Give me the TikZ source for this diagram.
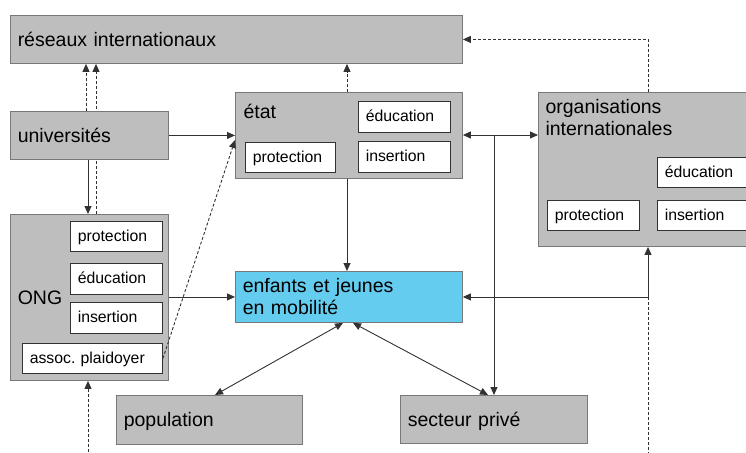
\documentclass[tikz,border=0pt]{standalone}
\usepackage{fontspec}
\setmainfont{Liberation Sans}
\frenchspacing
\usetikzlibrary{arrows.meta,backgrounds}
\definecolor{boxgray}{RGB}{190,190,190}
\definecolor{boxedge}{RGB}{120,120,120}
\definecolor{cyanbox}{RGB}{100,204,238}
\definecolor{linec}{RGB}{50,50,50}
\tikzset{
  obox/.style={draw=boxedge, fill=boxgray, line width=0.9pt, anchor=north west,
    inner xsep=7.3pt, inner ysep=0pt, align=left},
  ibox/.style={draw=linec, fill=white, line width=0.9pt, anchor=north west,
    inner xsep=7.3pt, inner ysep=0pt, align=left,
    font=\fontsize{15.8}{18}\selectfont, text height=10pt, text depth=0pt},
  bigtxt/.style={font=\fontsize{19.5}{22}\selectfont},
  one/.style={text height=14pt, text depth=0pt},
  conn/.style={draw=linec, line width=0.9pt},
  dsh/.style={draw=linec, line width=0.9pt, dash pattern=on 3pt off 2pt},
  tip/.style={-{Triangle[length=8pt,width=7pt]}},
  tips/.style={{Triangle[length=8pt,width=7pt]}-{Triangle[length=8pt,width=7pt]}},
}
\begin{document}
\begin{tikzpicture}[x=1pt,y=-1pt]
\useasboundingbox (0,0) rectangle (746,452);
\clip (0,0) rectangle (746,452);
% coordinates for connector lines
\coordinate (c86) at (86,0);
\coordinate (c88) at (88,0);
\coordinate (c96) at (96,0);
\coordinate (c347) at (347,0);
\coordinate (c494) at (494,0);
\coordinate (c648) at (648,0);
\coordinate (c215) at (215,0);
\coordinate (c343) at (343,0);
\coordinate (c353) at (353,0);
\coordinate (c488) at (488,0);
\coordinate (r135) at (0,135);
\coordinate (r140) at (0,140);
\coordinate (bot88) at (88,452);
\coordinate (bot648) at (648,452);
% outer boxes
\node[obox, bigtxt, one, minimum width=452pt, minimum height=48pt, text width=437.4pt] (reseaux) at (10,15) {réseaux internationaux};
\node[obox, bigtxt, one, minimum width=158pt, minimum height=48pt, text width=143.4pt] (univ) at (10,111) {universités};
\node[obox, minimum width=227pt, minimum height=86pt] (etat) at (235,92) {};
\node[obox, minimum width=230pt, minimum height=154pt] (org) at (538,92) {};
\node[obox, bigtxt, one, minimum width=158pt, minimum height=166pt, text width=143.4pt] (ong) at (10,214) {ONG};
\node[obox, bigtxt, fill=cyanbox, minimum width=227pt, minimum height=51pt, text width=212.4pt] (enfants) at (235,271) {enfants et jeunes\\en mobilité};
\node[obox, bigtxt, one, minimum width=186pt, minimum height=49pt, text width=171.4pt] (pop) at (116,395) {population};
\node[obox, bigtxt, one, minimum width=187pt, minimum height=48pt, text width=172.4pt] (prive) at (400,395) {secteur privé};
% labels at the top of boxes
\node[bigtxt, anchor=base west, inner sep=0pt] (etatlbl) at (243.3,118.7) {état};
\node[bigtxt, anchor=north west, inner sep=0pt, align=left] (orglbl) at (545.3,98.7) {organisations\\internationales};
% inner boxes
\node[ibox, minimum width=90pt, minimum height=30pt, text width=75.4pt] (etatprot) at (245,142) {protection};
\node[ibox, minimum width=92pt, minimum height=31pt, text width=77.4pt] (etatedu) at (358,101) {éducation};
\node[ibox, minimum width=92pt, minimum height=31pt, text width=77.4pt] (etatins) at (358,141) {insertion};
\node[ibox, minimum width=95pt, minimum height=30pt, text width=80.4pt] (orgedu) at (657,157) {éducation};
\node[ibox, minimum width=95pt, minimum height=30pt, text width=80.4pt] (orgins) at (657,200) {insertion};
\node[ibox, minimum width=92pt, minimum height=30pt, text width=77.4pt] (orgprot) at (547,200) {protection};
\node[ibox, minimum width=92pt, minimum height=30pt, text width=77.4pt] (ongprot) at (70,221) {protection};
\node[ibox, minimum width=92pt, minimum height=31pt, text width=77.4pt] (ongedu) at (70,263) {éducation};
\node[ibox, minimum width=92pt, minimum height=31pt, text width=77.4pt] (ongins) at (70,302) {insertion};
\node[ibox, minimum width=140pt, minimum height=30pt, text width=125.4pt] (assoc) at (22,343) {assoc. plaidoyer};
% connector hidden behind universités
\begin{scope}[on background layer]
\draw[dsh,tip] (ong.north -| c96) -- (reseaux.south -| c96);
\end{scope}
% connectors
\draw[dsh,tip] (univ.north -| c86) -- (reseaux.south -| c86);
\draw[conn,tip] (univ.south -| c88) -- (ong.north -| c88);
\draw[conn,tip] (univ.east) -- (etat.west |- univ.east);
\draw[dsh,tip] (assoc.east) -- (etat.west |- r140);
\draw[dsh,tip] (etat.north -| c347) -- (reseaux.south -| c347);
\draw[conn,tip] (etat.south -| c347) -- (enfants.north -| c347);
\draw[conn,tips] (etat.east |- r135) -- (org.west |- r135);
\draw[conn,tip] (c494 |- r135) -- (prive.north -| c494);
\draw[conn,tip] (ong.east |- enfants.west) -- (enfants.west);
\draw[conn,tips] (enfants.east) -| (org.south -| c648);
\draw[dsh,tip] (org.north -| c648) |- (reseaux.east);
\draw[dsh] (enfants.east -| c648) -- (bot648);
\draw[dsh,tip] (bot88) -- (ong.south -| c88);
\draw[conn,tips] (pop.north -| c215) -- (enfants.south -| c343);
\draw[conn,tips] (enfants.south -| c353) -- (prive.north -| c488);
\end{tikzpicture}
\end{document}
